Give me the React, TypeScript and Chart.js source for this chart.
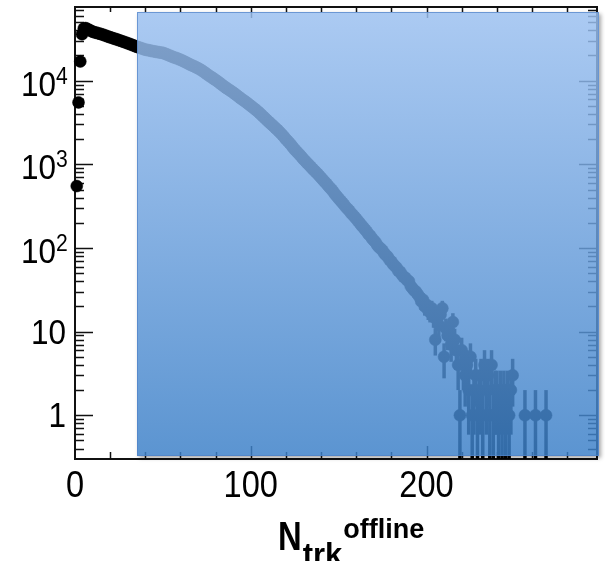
import React, { useEffect, useRef } from "react";
import { Chart, registerables } from "chart.js";

Chart.register(...registerables);

// ---- data ----
const nTrk = [
  1, 2, 3, 4, 5, 6, 7, 8, 9, 10,
  11, 12, 13, 14, 15, 16, 17, 18, 19, 20,
  21, 22, 23, 24, 25, 26, 27, 28, 29, 30,
  31, 32, 33, 34, 35, 36, 37, 38, 39, 40,
  41, 42, 43, 44, 45, 46, 47, 48, 49, 50,
  51, 52, 53, 54, 55, 56, 57, 58, 59, 60,
  61, 62, 63, 64, 65, 66, 67, 68, 69, 70,
  71, 72, 73, 74, 75, 76, 77, 78, 79, 80,
  81, 82, 83, 84, 85, 86, 87, 88, 89, 90,
  91, 92, 93, 94, 95, 96, 97, 98, 99, 100,
  101, 102, 103, 104, 105, 106, 107, 108, 109, 110,
  111, 112, 113, 114, 115, 116, 117, 118, 119, 120,
  121, 122, 123, 124, 125, 126, 127, 128, 129, 130,
  131, 132, 133, 134, 135, 136, 137, 138, 139, 140,
  141, 142, 143, 144, 145, 146, 147, 148, 149, 150,
  151, 152, 153, 154, 155, 156, 157, 158, 159, 160,
  161, 162, 163, 164, 165, 166, 167, 168, 169, 170,
  171, 172, 173, 174, 175, 176, 177, 178, 179, 180,
  181, 182, 183, 184, 185, 186, 187, 188, 189, 190,
  191, 192, 193, 194, 195, 196, 197, 198, 199, 200,
  201, 202, 203, 204, 205, 206, 207, 208, 209, 210,
  211, 212, 213, 214, 215, 216, 217, 218,
  219, 220, 221, 222, 223, 224, 225, 226, 227, 228, 229, 230, 231, 232,
  233, 234, 235, 236, 237, 238, 239, 240, 241, 242, 243, 244, 245, 246, 247, 248, 249,
  256, 262, 268,
];

const entries = [
  550, 5500, 17000, 36000, 42000, 42500, 41500, 40500, 39500, 38500,
  38000, 37500, 37000, 36500, 36000, 35400, 34800, 34200, 33600, 33000,
  32500, 32000, 31500, 31000, 30500, 30000, 29500, 29000, 28500, 28000,
  27500, 27000, 26500, 26000, 25500, 25100, 24700, 24300, 23900, 23500,
  23300, 23100, 22800, 22600, 22400, 22200, 22000, 21800, 21600, 21500,
  21100, 20700, 20300, 19900, 19500, 19100, 18800, 18500, 18100, 17800,
  17400, 17000, 16600, 16200, 15800, 15400, 15100, 14800, 14400, 14100,
  13700, 13300, 12900, 12400, 12000, 11600, 11200, 10900, 10500, 10200,
  9850, 9500, 9150, 8800, 8500, 8200, 7950, 7700, 7450, 7200,
  6950, 6700, 6450, 6200, 6000, 5800, 5600, 5400, 5200, 5000,
  4820, 4640, 4460, 4280, 4100, 3920, 3740, 3570, 3400, 3250,
  3110, 2980, 2850, 2720, 2600, 2480, 2360, 2240, 2120, 2000,
  1900, 1800, 1700, 1600, 1500, 1430, 1360, 1290, 1220, 1150,
  1095, 1040, 990, 940, 890, 850, 810, 770, 730, 690,
  655, 620, 590, 555, 525, 500, 470, 440, 415, 390,
  370, 350, 330, 310, 295, 280, 262, 250, 236, 224,
  210, 199, 186, 177, 166, 157, 146, 140, 130, 123,
  117, 108, 102, 98, 93, 86, 82, 78, 72, 69,
  64, 61, 58, 53, 52, 48, 45, 44, 41, 40,
  35, 33, 31, 30, 28, 26, 23, 24, 20, 21,
  18, 17, 19, 15, 8, 14, 12, 16, 19, 5,
  11, 9, 10, 7, 13, 8, 6, 4,
  1, 6, 4, 3, 4, 2, 5, 1, 2, 3, 1, 2, 3, 1,
  4, 2, 3, 1, 4, 1, 2, 2, 1, 2, 1, 2, 1, 2, 1, 2, 3,
  1, 1, 1,
];

const xRange = [0, 297];
const yRange = [0.316, 76000];
const xTickValues = [0, 100, 200];
const xTickLabels = ["0", "100", "200"];
const yTickValues = [1, 10, 100, 1000, 10000];
const yTickBase = ["1", "10", "10", "10", "10"];
const yTickExp = ["", "", "2", "3", "4"];
const overlayStartX = 35.2;

const FONT = "'Liberation Sans', Arial, Helvetica, sans-serif";

function drawScaledText(ctx: CanvasRenderingContext2D, text: string, x: number, y: number, font: string, sx: number, align: "left" | "right" | "center") {
  ctx.save();
  ctx.font = font;
  ctx.textBaseline = "alphabetic";
  const w = ctx.measureText(text).width * sx;
  let left = x;
  if (align === "right") left = x - w;
  if (align === "center") left = x - w / 2;
  ctx.translate(left, y);
  ctx.scale(sx, 1);
  ctx.textAlign = "left";
  ctx.fillText(text, 0, 0);
  ctx.restore();
  return w;
}

const rootPlugin = {
  id: "rootStyle",
  beforeDatasetsDraw(chart: any) {
    const { ctx, chartArea: ca, scales } = chart;
    const xs = scales.x;
    const ys = scales.y;
    ctx.save();
    ctx.strokeStyle = "#111";
    ctx.lineWidth = 2;
    ctx.strokeRect(ca.left, ca.top, ca.right - ca.left, ca.bottom - ca.top);
    ctx.lineWidth = 1.5;
    for (let v = 20; v < xRange[1]; v += 20) {
      const px = Math.round(xs.getPixelForValue(v)) + 0.5;
      const len = v % 100 === 0 ? 13 : 7;
      ctx.beginPath();
      ctx.moveTo(px, ca.bottom);
      ctx.lineTo(px, ca.bottom - len);
      ctx.moveTo(px, ca.top);
      ctx.lineTo(px, ca.top + (v % 100 === 0 ? 11 : 5));
      ctx.stroke();
    }
    for (let d = -1; d <= 5; d++) {
      for (let k = 1; k <= 9; k++) {
        const v = k * Math.pow(10, d);
        if (v < yRange[0] || v > yRange[1]) continue;
        const py = Math.round(ys.getPixelForValue(v)) + 0.5;
        const len = k === 1 ? 18 : 9;
        ctx.beginPath();
        ctx.moveTo(ca.left, py);
        ctx.lineTo(ca.left + len, py);
        ctx.moveTo(ca.right, py);
        ctx.lineTo(ca.right - len, py);
        ctx.stroke();
      }
    }
    // error bars (sqrt N)
    ctx.beginPath();
    ctx.rect(ca.left, ca.top, ca.right - ca.left, ca.bottom - ca.top);
    ctx.clip();
    ctx.strokeStyle = "#000";
    ctx.lineWidth = 3.5;
    for (let i = 0; i < nTrk.length; i++) {
      const n = entries[i];
      const e = Math.sqrt(n);
      const px = xs.getPixelForValue(nTrk[i]);
      const lo = n - e > 0 ? ys.getPixelForValue(n - e) : ca.bottom + 5;
      const hi = ys.getPixelForValue(n + e);
      ctx.beginPath();
      ctx.moveTo(px, lo);
      ctx.lineTo(px, hi);
      ctx.stroke();
    }
    ctx.restore();
  },
  afterDatasetsDraw(chart: any) {
    const { ctx, chartArea: ca, scales } = chart;
    const left = Math.round(scales.x.getPixelForValue(overlayStartX));
    const top = ca.top + 5;
    const right = ca.right + 2;
    const bottom = ca.bottom - 3;
    ctx.save();
    ctx.beginPath();
    ctx.rect(0, 0, chart.width, chart.height);
    ctx.rect(left, top, right - left, bottom - top);
    ctx.clip("evenodd");
    ctx.shadowColor = "rgba(0,0,0,0.35)";
    ctx.shadowBlur = 4;
    ctx.shadowOffsetX = 2;
    ctx.shadowOffsetY = 2;
    ctx.fillStyle = "#000";
    ctx.fillRect(left, top, right - left, bottom - top);
    ctx.restore();

    ctx.save();
    const g = ctx.createLinearGradient(0, top, 0, bottom);
    g.addColorStop(0, "rgba(155,192,240,0.84)");
    g.addColorStop(0.5, "rgba(108,160,220,0.84)");
    g.addColorStop(1, "rgba(60,128,200,0.84)");
    ctx.fillStyle = g;
    ctx.fillRect(left, top, right - left, bottom - top);
    ctx.strokeStyle = "rgba(80,130,200,0.7)";
    ctx.lineWidth = 1;
    ctx.strokeRect(left + 0.5, top + 0.5, right - left - 1, bottom - top - 1);
    ctx.restore();
  },
  afterDraw(chart: any) {
    const { ctx, chartArea: ca, scales } = chart;
    ctx.save();
    ctx.fillStyle = "#000";
    xTickValues.forEach((v, i) => {
      const px = scales.x.getPixelForValue(v);
      drawScaledText(ctx, xTickLabels[i], px, ca.bottom + 38, `37px ${FONT}`, 0.88, "center");
    });
    yTickValues.forEach((v, i) => {
      const py = scales.y.getPixelForValue(v);
      if (yTickExp[i]) {
        drawScaledText(ctx, yTickBase[i], ca.left - 19, py + 15, `35px ${FONT}`, 0.9, "right");
        drawScaledText(ctx, yTickExp[i], ca.left - 19, py + 3, `24px ${FONT}`, 0.88, "left");
      } else {
        drawScaledText(ctx, yTickBase[i], ca.left - 9, py + 12, `35px ${FONT}`, 0.9, "right");
      }
    });
    const w1 = drawScaledText(ctx, "N", 278, 550, `bold 41px ${FONT}`, 0.8, "left");
    const w2 = drawScaledText(ctx, "trk", 278 + w1 + 1, 565, `bold 31px ${FONT}`, 1.0, "left");
    drawScaledText(ctx, "offline", 278 + w1 + w2 + 2, 538, `bold 27px ${FONT}`, 1.0, "left");
    ctx.restore();
  },
};

export default function App() {
  const ref = useRef<HTMLCanvasElement | null>(null);
  useEffect(() => {
    if (!ref.current) return;
    const points = nTrk.map((x, i) => ({ x, y: entries[i] }));
    const chart = new Chart(ref.current, {
      type: "scatter",
      data: {
        datasets: [
          {
            data: points,
            backgroundColor: "#000",
            borderColor: "#000",
            pointRadius: 6,
            pointBorderWidth: 0.5,
            showLine: false,
            clip: false,
          },
        ],
      },
      options: {
        animation: false,
        responsive: false,
        devicePixelRatio: 1,
        layout: { padding: { left: 75, top: 7, right: 8, bottom: 102 } },
        scales: {
          x: { type: "linear", min: xRange[0], max: xRange[1], display: false },
          y: { type: "logarithmic", min: yRange[0], max: yRange[1], display: false },
        },
        plugins: { legend: { display: false }, tooltip: { enabled: false } },
      },
      plugins: [rootPlugin],
    });
    return () => chart.destroy();
  }, []);
  return (
    <div style={{ position: "fixed", left: 0, top: 0, width: 605, height: 561, background: "#fff" }}>
      <canvas ref={ref} width={605} height={561} style={{ display: "block" }} />
    </div>
  );
}
